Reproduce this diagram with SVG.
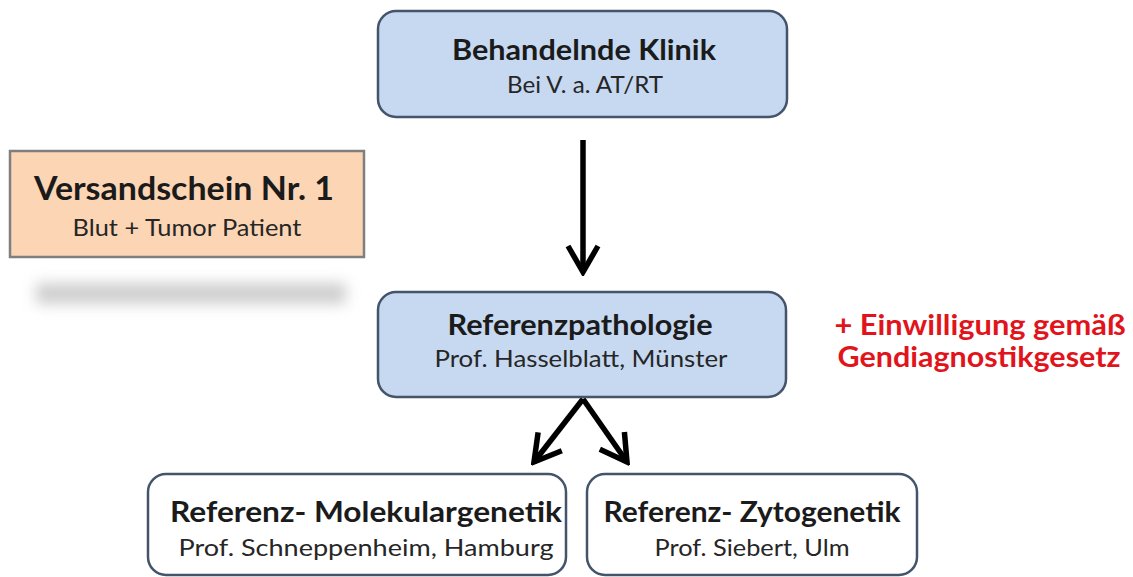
<svg xmlns="http://www.w3.org/2000/svg" width="1133" height="577" viewBox="0 0 1133 577">
  <style>
    .t { font-family: Lato, "Liberation Sans", sans-serif; font-weight: bold; fill: #1b1b1b; text-anchor: middle; }
    .s { font-family: Lato, "Liberation Sans", sans-serif; font-weight: normal; fill: #262626; text-anchor: middle; }
    .blue { fill: #c6d9f1; stroke: #44546a; stroke-width: 2.5; }
    .white { fill: #ffffff; stroke: #44546a; stroke-width: 2.5; }
    .red { font-family: Lato, "Liberation Sans", sans-serif; font-weight: bold; fill: #e1141c; text-anchor: middle; }
    .conn { fill: none; stroke: #000; stroke-width: 5.5; }
  </style>
  <defs>
    <marker id="head" markerUnits="userSpaceOnUse" viewBox="-32 -20 36 40" refX="0" refY="0" markerWidth="36" markerHeight="40" orient="auto">
      <path d="M -26 -15 L 0 0 L -26 15" fill="none" stroke="#000" stroke-width="5.5" stroke-linejoin="miter"/>
    </marker>
    <filter id="blur" x="-20%" y="-150%" width="140%" height="400%">
      <feGaussianBlur stdDeviation="7"/>
    </filter>
  </defs>
  <rect width="1133" height="577" fill="#ffffff"/>

  <g id="shadow">
    <rect x="36" y="283" width="310" height="21" fill="#cfcfcf" filter="url(#blur)"/>
  </g>

  <g id="connectors">
    <path class="conn" d="M 583 140 L 583 272" marker-end="url(#head)"/>
    <path class="conn" d="M 583 399 L 534 462" marker-end="url(#head)"/>
    <path class="conn" d="M 583 399 L 627 462" marker-end="url(#head)"/>
  </g>

  <g id="klinik">
    <rect class="blue" x="378" y="11" width="409" height="106" rx="18"/>
    <text class="t" x="584" y="60" font-size="28" textLength="264" lengthAdjust="spacingAndGlyphs">Behandelnde Klinik</text>
    <text class="s" x="585" y="93" font-size="23" textLength="156" lengthAdjust="spacingAndGlyphs">Bei V. a. AT/RT</text>
  </g>

  <g id="versandschein">
    <rect x="10" y="151" width="354" height="106" fill="#fcd5b5" stroke="#7f7f7f" stroke-width="2.5"/>
    <text class="t" x="184" y="200" font-size="32" textLength="300" lengthAdjust="spacingAndGlyphs">Versandschein  Nr. 1</text>
    <text class="s" x="187" y="236" font-size="23" textLength="229" lengthAdjust="spacingAndGlyphs">Blut + Tumor  Patient</text>
  </g>

  <g id="referenzpathologie">
    <rect class="blue" x="378" y="292" width="408" height="105" rx="18"/>
    <text class="t" x="580" y="335" font-size="28" textLength="265" lengthAdjust="spacingAndGlyphs">Referenzpathologie</text>
    <text class="s" x="581" y="367" font-size="23" textLength="293" lengthAdjust="spacingAndGlyphs">Prof. Hasselblatt, Münster</text>
  </g>

  <g id="einwilligung">
    <text class="red" x="980" y="335" font-size="28" textLength="291" lengthAdjust="spacingAndGlyphs">+ Einwilligung gemäß</text>
    <text class="red" x="979" y="367" font-size="28" textLength="283" lengthAdjust="spacingAndGlyphs">Gendiagnostikgesetz</text>
  </g>

  <g id="molekulargenetik">
    <rect class="white" x="148" y="474" width="418" height="101" rx="18"/>
    <text class="t" x="366" y="522" font-size="28" textLength="392" lengthAdjust="spacingAndGlyphs">Referenz- Molekulargenetik</text>
    <text class="s" x="366" y="556" font-size="23" textLength="375" lengthAdjust="spacingAndGlyphs">Prof. Schneppenheim,  Hamburg</text>
  </g>

  <g id="zytogenetik">
    <rect class="white" x="587" y="474" width="330" height="101" rx="18"/>
    <text class="t" x="752" y="522" font-size="28" textLength="297" lengthAdjust="spacingAndGlyphs">Referenz- Zytogenetik</text>
    <text class="s" x="752" y="556" font-size="23" textLength="195" lengthAdjust="spacingAndGlyphs">Prof. Siebert, Ulm</text>
  </g>
</svg>
